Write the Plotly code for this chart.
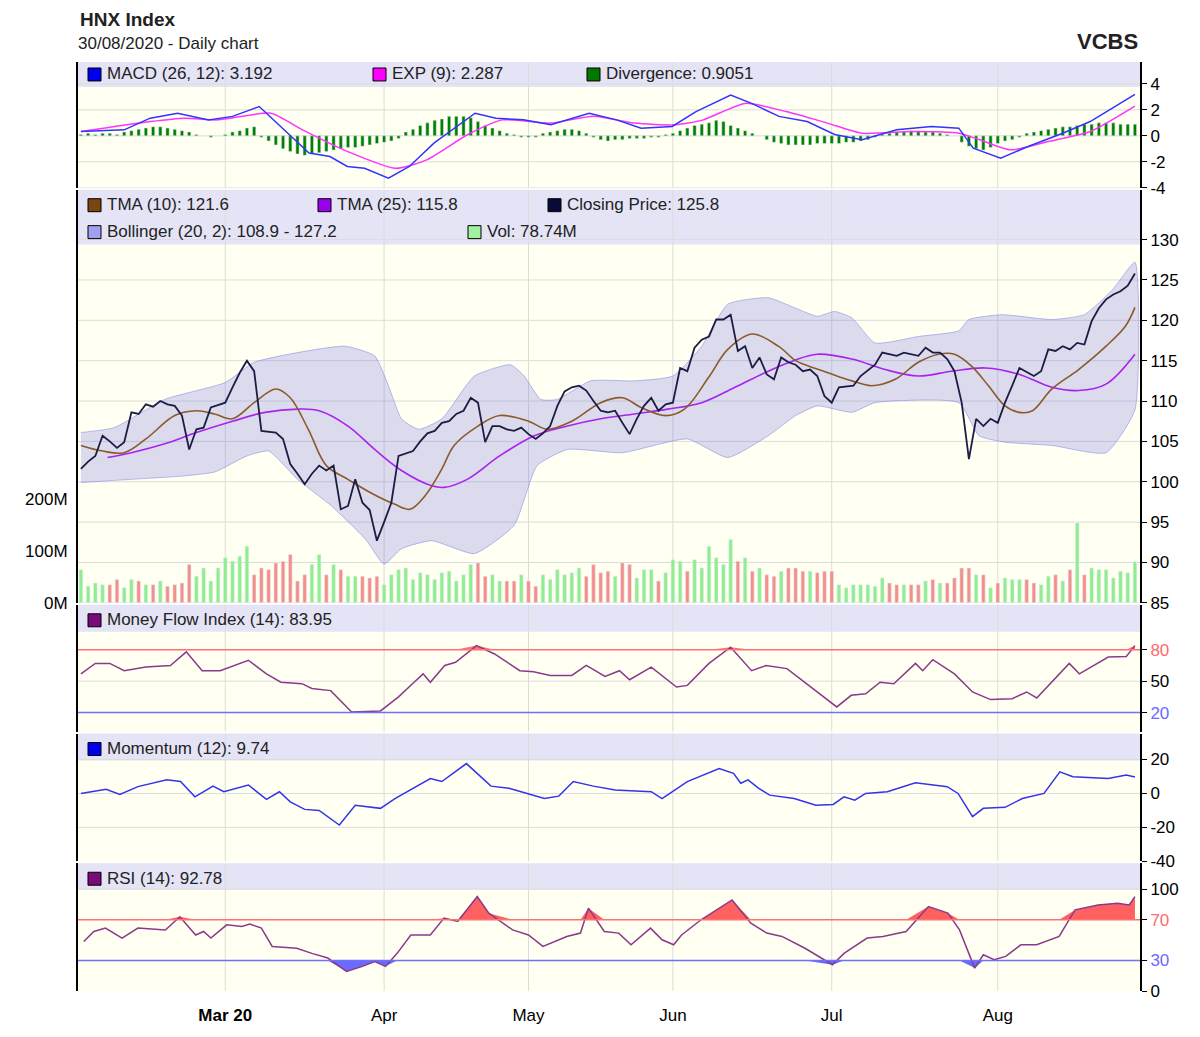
import numpy as np
import pandas as pd
import plotly.graph_objects as go

# ---------------- DATA ----------------
dates = [d for d in pd.bdate_range("2020-02-03", "2020-08-28")
         if d.strftime("%m-%d") not in ("04-02", "04-30", "05-01")]
month_labels = ["<b>Mar 20</b>", "Apr", "May", "Jun", "Jul", "Aug"]
month_keys = ["2020-03", "2020-04", "2020-05", "2020-06", "2020-07", "2020-08"]

close = [101.6,102.5,103.2,105.7,105,104.2,104.9,108.6,108.4,109.6,109.3,110,109.6,109.4,108.2,104,106.5,106.7,109.2,109.5,
         109.8,111.7,113.5,115,113.7,106.3,106.2,106.1,105.3,102.2,101,99.7,101,102,101.4,102,96.6,97,100.3,97.4,
         96.5,92.7,95,97.4,103.2,103.5,103.8,105,106,106.3,107.3,107.5,108.4,108.8,110.4,109.8,104.9,106.9,106.9,106.5,
         106.3,106.7,105.9,105.3,106,106.9,109.4,111.2,111.7,111.9,111.3,110,108.8,108.6,108.8,107.3,105.9,107.8,109.4,110.4,
         108.8,109.6,109.8,114.1,113.7,116.6,117.6,118,120.1,120.1,120.7,116.2,116.8,114.1,115.4,113.3,112.7,115.4,114.8,114.5,
         113.7,113.9,113.1,110.6,109.8,111.7,111.8,111.9,113.1,113.8,114.5,116,115.8,115.6,116,115.8,115.6,116.6,116,116,
         115.2,113.7,109.8,102.8,107.8,106.9,107.8,107.3,109.8,111.9,114.1,113.6,113.1,113.7,116.4,116.2,116.8,116.4,117.2,117,
         119.9,121.5,122.6,123.2,123.6,124.3,125.8]
volume_m = [64,32,38,35,35,45,29,45,42,35,35,42,32,35,38,74,51,67,42,67,87,80,90,109,54,67,64,77,80,93,42,54,74,93,54,74,64,51,51,51,
            48,51,35,54,64,67,45,58,54,45,58,61,42,54,74,77,51,54,42,42,42,54,42,32,54,45,64,54,58,67,51,74,58,61,51,77,74,48,64,64,
            42,58,83,80,61,83,67,109,87,74,122,80,87,61,67,54,51,61,67,67,61,61,58,61,61,35,29,35,35,35,32,48,38,35,35,35,35,42,45,38,
            38,48,67,67,54,54,29,38,48,45,45,45,38,35,51,54,42,64,154,54,67,64,64,48,61,58,79]

tma10_x = [0,3,6,9,13,16,18.5,21,24,27,29,31.5,34,37,40,43.5,45.6,47.7,50,51.7,55,58,62,64.6,68,72,75,77.6,81,83.6,87,89.6,93,96.6,99,
           100.3,103.5,106.8,109.5,112.8,116,118.8,121,123.4,125.7,128,130,131.8,134.5,138.2,142,144.7,146]
tma10_y = [104.5,103.8,103.6,105.3,108.2,108.8,108.4,107.8,109.8,111.5,110.4,106.5,102,100.3,98.7,97.2,96.6,98.3,101.6,104.5,106.9,108.2,107.5,106.5,107.5,109.8,110.4,109.2,108.2,109,113,116.4,118.3,116.8,115,
           114.5,113.5,112.5,111.9,112.7,114.8,115.8,115.8,114.3,111.9,109.4,108.6,108.8,111.5,113.9,116.8,119.3,121.6]
tma25_x = [3.7,7,11.6,16,21,25.5,30,33,37,40.7,44.4,48.6,50.3,53.5,58,62.8,67.4,72,76.7,81.3,86,90.6,95.2,98.7,102,106.8,111.4,116,120.6,125.3,130,134.5,138.2,142,146]
tma25_y = [103,103.6,104.7,106.1,107.5,108.6,109,108.8,106.9,104,101.4,99.5,99.3,100.3,103.2,105.7,106.9,107.8,108.4,109,109.8,111.7,113.7,115,115.8,115.2,113.9,113.1,113.7,114.1,113.3,111.7,111.3,112.1,115.8]
boll_up_x = [0,4.6,11.6,20,24,30,36.6,40.7,42.6,44.4,46.8,50,54.5,59.5,61.4,63.7,66,70.6,76.7,82,86,89.6,95.2,99,102,104.4,106.8,110,116,121.6,123,127.6,134.5,139,142.9,146]
boll_up_y = [106.1,106.7,110.2,112.3,114.8,116,116.8,115.6,111.9,107.8,106.5,107.8,113.1,114.5,113.1,110.2,110.2,112.5,112.5,113.1,116.8,122,122.8,121.5,120.5,121.1,120.3,117.2,118,118.7,120.1,120.7,120.1,120.7,123.8,127.2]
boll_lo_x = [0,7,14,18.5,23,26,30,34.7,39.4,42,44.4,48.6,54.5,60,63.2,67.4,75,84,89.6,95.2,99,102,106.8,110,121.6,124.4,128,134.5,142,146]
boll_lo_y = [99.9,100.3,100.7,101.2,103.2,103.8,100.3,97,92.9,89.8,91.7,92.7,91.1,94.6,102,104,103.6,105.3,103,105.7,108.2,109.4,108.6,109.8,109.8,105.7,104.9,104.5,103.6,108.9]

macd_x = [0,6,9.6,13.4,17.7,21,24.7,28.7,31.6,34.5,36.9,39.3,42.6,45.5,48.9,54.6,57.5,61.3,65.1,70.4,74.2,77.6,81.9,85.2,90,92.9,96.7,100.6,104.4,108.2,113,117.8,121.6,123.6,127.4,131.2,136,139.8,143.7,146]
macd_y = [0.33,0.46,1.36,1.74,1.23,1.5,2.26,0.2,-1.33,-1.6,-2.36,-2.5,-3.26,-2.36,-0.56,1.74,1.36,1.23,0.85,1.74,1.23,0.59,0.72,1.87,3.15,2.5,1.5,1.1,0.1,-0.3,0.46,0.72,0.59,-0.95,-1.72,-0.82,0.2,1.1,2.38,3.19]
exp_x = [0,9.6,14.4,19,26.3,30.7,36.4,43.6,47.9,53.6,58.4,65,71,76.6,82.4,86.2,92,97.7,103.4,108.2,115,121.6,124.5,128.8,134,139.8,146]
exp_y = [0.33,1.1,1.36,1.23,1.74,0.46,-1.08,-2.5,-1.85,0.1,1.23,0.98,1.5,0.98,0.85,1.23,2.5,1.87,0.98,0.2,0.33,0.2,-0.3,-1.08,-0.44,0.33,2.29]
divergence = [0.1,0.2,0.1,0.2,0.2,0.1,0.3,0.4,0.5, 0.6,0.7,0.7,0.6,0.5,0.4,0.3, 0.1,0.0,-0.1,0.0,0.1, 0.3,0.4,0.6,0.7,
              -0.1,-0.4,-0.7, -1.0,-1.2,-1.4,-1.5,-1.4,-1.3, -1.2,-1.1,-1.0,-0.9,-0.9,-0.8,-0.7,-0.6,-0.5,-0.4,
              -0.2,0.3,0.5,0.8, 1.0,1.2,1.3,1.5,1.5,1.5,1.4,1.1,0.8, 0.6,0.4,0.2,0.1,-0.1, -0.1,-0.1,
              0.2,0.3,0.4,0.5,0.5,0.4,0.2, -0.1,-0.3,-0.4,-0.3,-0.3,-0.2, -0.2,-0.2,-0.1,-0.1,0.1,0.2,
              0.4,0.6,0.8,0.9,1.0,1.2,1.1,0.8, 0.6,0.4,0.2,0.0,
              -0.3,-0.5,-0.6,-0.7,-0.7,-0.7,-0.7,-0.6,-0.6,-0.6,-0.6,-0.5,-0.5,-0.4,-0.3,-0.1,
              0.1,0.2,0.3,0.3,0.4,0.4,0.3,0.3,0.2,0.1,0.0, -0.5,-0.8,-1.0,-1.1,-0.9, -0.6,-0.4,-0.3,-0.1,
              0.2,0.3,0.4,0.5,0.6,0.7,0.7,0.8,0.9,0.9,1.0,1.0,1.0,0.9,0.9,0.9]

mfi_x = [0,2,4,6,9,12.4,14.6,16.8,19.3,23.2,25.7,27.7,30.6,32,34.6,37.5,41.5,44,46,47.4,48.4,50.4,51.9,54.8,57.3,60.8,62.7,65,68,70,72.6,74.6,76,79,82.5,84,87,90,92.9,94.9,97.8,
         101.8,104.7,106.7,108.7,110.7,112.6,115.6,116.6,118,121,123.5,126,129,131,132.4,136.9,138.3,142.3,144.8,146]
mfi_y = [57,67,67,60,63.5,65,78,60,60,70,57,49,47.6,43,41,20.6,21.6,35,48,57,49,65,68,84,76,60,59,55.5,55.5,65,54.6,60,51.4,63.5,44.4,46,67,82.5,60,65,62,
         41,25.4,36.5,38,49,47.6,67,60,70.5,57,39.7,32.4,33.3,39.7,34,67,57,73,73.6,83.95]
mom_x = [0,3.5,5.4,7.9,11.9,13.8,15.8,18.3,19.8,23.2,25.7,27.5,29,31,33,35.8,38,41.5,43.5,45.5,48.4,50,53.4,56.8,59.3,64.2,66.2,68.2,71,74,79,80.5,84,88.4,90.4,91.4,92.4,93.9,95.4,98.8,
         101.8,104.2,105.7,107.2,108.7,111.7,115.6,120,121.5,123.5,125,128,130.4,133.4,135.6,137.4,142.3,144.8,146]
mom_y = [0,2.4,-0.6,4,8,7,-2,4.3,1,5,-3.5,1,-5,-9.4,-10,-18.6,-7,-8.8,-3,2,8.8,7,17.6,4.3,3,-3,-1.6,7,4.3,2,1,-3,7,14.7,11.8,6,8,3,-1,-3,
         -7,-6.5,-2,-4,0,1,6.3,4,0,-13.7,-8.8,-8.2,-3,0,12.7,9.8,8.8,10.8,9.74]
rsi_x = [0.4,1.8,3.4,5.7,7.9,11.7,13.7,15.9,17,18,20.2,22.3,23.4,25,26.5,29.9,32,34.2,36.8,39,40.7,42.2,43.8,45.7,48.4,50.3,52.2,54.9,56.5,59.8,62,64,67.3,69.2,70.3,72.5,74.5,76.2,78.9,80.5,82.1,83.2,85.9,90.2,92.8,95,97.1,
         100.3,104.1,105.7,108.9,111.1,114.3,117.4,120.1,121.7,123.8,125,126.5,128.1,130.2,132.4,135.5,137.7,140.9,143.6,145.2,146]
rsi_y = [48.7,58.5,61.8,52,61.8,60,73,55,58.5,52,65,63.4,65.7,61.8,43.8,42,37,32.4,19.3,24.2,29,24.2,37,55,55,71.6,68.3,92.8,76.5,60,55,43.8,53.6,56.9,81.4,58.5,56.9,45.4,61.8,50.3,45.4,55,70,89.5,66.7,56.9,53.6,
         42,25.8,37,52,53.6,58.5,83,76.5,60,22.5,35.6,30.7,34,45.4,45.4,53.6,79.7,84.6,86.3,84.6,92.78]

# ---------------- HELPERS ----------------
OFF = 8  # page body margin
W, H = 1200 - OFF, 1037 - OFF
L, R, T, B = 78, 1140, 62, 993   # reference pixel coordinates
def px(x): return (x - L) / (R - L)
def py(y): return (B - y) / (B - T)

n = len(close)
idx = list(range(n))
month_pos = [next(i for i, d in enumerate(dates) if d.strftime("%Y-%m") == k) for k in month_keys]

BG = "#fffff2"
BAND = "#e4e4f6"
GRID = "#dcdcdc"
FONT = "Liberation Sans"

fig = go.Figure()

fig.add_trace(go.Bar(x=idx, y=divergence, marker_color="#008000", width=0.45, yaxis="y", xaxis="x"))
fig.add_trace(go.Scatter(x=exp_x, y=exp_y, mode="lines", line=dict(color="#ff33ff", width=1.5, shape="spline", smoothing=0.6), yaxis="y"))
fig.add_trace(go.Scatter(x=macd_x, y=macd_y, mode="lines", line=dict(color="#3333ff", width=1.5), yaxis="y"))

vol = [v * 1e6 for v in volume_m]
vcol = ["#90ee90" if i == 0 or close[i] >= close[i - 1] else "#f4908c" for i in idx]
fig.add_trace(go.Bar(x=idx, y=vol, marker_color=vcol, width=0.5, xaxis="x", yaxis="y2"))
fig.add_trace(go.Scatter(x=boll_up_x + boll_lo_x[::-1], y=boll_up_y + boll_lo_y[::-1], fill="toself",
                         fillcolor="rgba(110,110,225,0.25)", line=dict(color="rgba(110,110,230,0.45)", width=1, shape="spline", smoothing=0.5),
                         mode="lines", yaxis="y3"))
fig.add_trace(go.Scatter(x=tma25_x, y=tma25_y, mode="lines", line=dict(color="#aa22ee", width=1.6, shape="spline"), yaxis="y3"))
fig.add_trace(go.Scatter(x=tma10_x, y=tma10_y, mode="lines", line=dict(color="#8b5a2b", width=1.6, shape="spline"), yaxis="y3"))
fig.add_trace(go.Scatter(x=idx, y=close, mode="lines", line=dict(color="#1c1c44", width=1.8), yaxis="y3"))

fig.add_trace(go.Scatter(x=mfi_x, y=[80]*len(mfi_x), mode="lines", line=dict(width=0), yaxis="y4"))
fig.add_trace(go.Scatter(x=mfi_x, y=np.maximum(mfi_y, 80), mode="lines", line=dict(width=0), fill="tonexty",
                         fillcolor="rgba(255,80,80,0.8)", yaxis="y4"))
fig.add_trace(go.Scatter(x=mfi_x, y=mfi_y, mode="lines", line=dict(color="#8b3a8b", width=1.5), yaxis="y4"))

fig.add_trace(go.Scatter(x=mom_x, y=mom_y, mode="lines", line=dict(color="#3333ee", width=1.5), yaxis="y5"))

fig.add_trace(go.Scatter(x=rsi_x, y=[70]*len(rsi_x), mode="lines", line=dict(width=0), yaxis="y6"))
fig.add_trace(go.Scatter(x=rsi_x, y=np.maximum(rsi_y, 70), mode="lines", line=dict(width=0), fill="tonexty",
                         fillcolor="rgba(255,80,80,0.9)", yaxis="y6"))
fig.add_trace(go.Scatter(x=rsi_x, y=[30]*len(rsi_x), mode="lines", line=dict(width=0), yaxis="y6"))
fig.add_trace(go.Scatter(x=rsi_x, y=np.minimum(rsi_y, 30), mode="lines", line=dict(width=0), fill="tonexty",
                         fillcolor="rgba(90,90,255,0.9)", yaxis="y6"))
fig.add_trace(go.Scatter(x=rsi_x, y=rsi_y, mode="lines", line=dict(color="#8b3a8b", width=1.5), yaxis="y6"))

BLUE_T = "#6a6aff"; RED_T = "#ff6a6a"
def yax(dom, rng, tv, tt, side="right", **kw):
    d = dict(domain=dom, range=rng, tickvals=tv, ticktext=tt, side=side, showgrid=False,
             zeroline=False, ticks="outside", ticklen=5, tickcolor="black",
             tickfont=dict(family=FONT, size=17, color="black"), fixedrange=True,
             showline=True, linecolor="black", linewidth=2, mirror=True)
    d.update(kw)
    return d

xcommon = dict(range=[-0.4, 146.7], showgrid=False, zeroline=False, showline=False,
               tickvals=month_pos, ticktext=month_labels, ticks="outside", ticklen=9,
               tickcolor="rgba(0,0,0,0)", fixedrange=True)
layout = dict(
    width=W, height=H, paper_bgcolor="white", plot_bgcolor=BG, showlegend=False, barmode="overlay",
    margin=dict(l=L - OFF, r=W - (R - OFF), t=T - OFF, b=H - (B - OFF)),
    font=dict(family=FONT, size=17, color="black"),
    xaxis=dict(xcommon, anchor="y6", showticklabels=True, tickfont=dict(family=FONT, size=17)),
    yaxis=yax([py(188), 1.0], [-4, 5.69], [-4, -2, 0, 2, 4], ["-4", "-2", "0", "2", "4"], anchor="x"),
    yaxis2=yax([py(604), py(190)], [0, 796e6], [0, 100e6, 200e6], ["0M", "100M", "200M"], side="left", anchor="x",
               showline=False, ticks="outside", ticklen=6, tickcolor="rgba(0,0,0,0)"),
    yaxis3=yax([py(604), py(190)], [85, 136.18], list(range(85, 131, 5)), [str(v) for v in range(85, 131, 5)], overlaying="y2", anchor="x"),
    yaxis4=yax([py(733), py(606)], [1.9, 122.9], [20, 50, 80],
               [f"<span style='color:{BLUE_T}'>20</span>", "50", f"<span style='color:{RED_T}'>80</span>"], anchor="x"),
    yaxis5=yax([py(863), py(735)], [-40, 35.3], [-40, -20, 0, 20], ["-40", "-20", "0", "20"], anchor="x"),
    yaxis6=yax([0, py(865)], [0, 125.5], [0, 30, 70, 100],
               ["0", f"<span style='color:{BLUE_T}'>30</span>", f"<span style='color:{RED_T}'>70</span>", "100"], anchor="x"),
)
fig.update_layout(**layout)

shapes = []
panels = [("y", [-4, -2, 0, 2, 4], 62, 87), ("y3", list(range(85, 131, 5)), 190, 245),
          ("y4", [50], 606, 633), ("y5", [-20, 0, 20], 735, 762), ("y6", [100], 865, 891)]
for ax, gv, top, bot in panels:
    shapes.append(dict(type="rect", xref="paper", yref="paper", x0=0, x1=1, y0=py(bot), y1=py(top),
                       fillcolor=BAND, line=dict(width=0), layer="below"))
    for v in gv:
        shapes.append(dict(type="line", xref="paper", yref=ax, x0=0, x1=1, y0=v, y1=v,
                           line=dict(color=GRID, width=1), layer="below"))
for ax_top, ax_bot in [(62, 188), (190, 604), (606, 733), (735, 863), (865, 993)]:
    for m in month_pos:
        shapes.append(dict(type="line", xref="x", yref="paper", x0=m, x1=m, y0=py(ax_bot), y1=py(ax_top),
                           line=dict(color=GRID, width=1), layer="below"))
shapes.append(dict(type="line", xref="paper", yref="y4", x0=0, x1=1, y0=80, y1=80, line=dict(color="#ff7070", width=1.5)))
shapes.append(dict(type="line", xref="paper", yref="y4", x0=0, x1=1, y0=20, y1=20, line=dict(color="#7070ff", width=1.5)))
shapes.append(dict(type="line", xref="paper", yref="y6", x0=0, x1=1, y0=70, y1=70, line=dict(color="#ff7070", width=1.5)))
shapes.append(dict(type="line", xref="paper", yref="y6", x0=0, x1=1, y0=30, y1=30, line=dict(color="#7070ff", width=1.5)))

annotations = []
def legend_item(x, y, color, text):
    shapes.append(dict(type="rect", xref="paper", yref="paper", x0=px(x), x1=px(x + 13), y0=py(y + 7), y1=py(y - 6),
                       fillcolor=color, line=dict(color="black", width=1)))
    annotations.append(dict(xref="paper", yref="paper", x=px(x + 17), y=py(y), text=text, showarrow=False,
                            xanchor="left", yanchor="middle", font=dict(family=FONT, size=17, color="#222")))

legend_item(88, 74, "#0000ee", "MACD (26, 12): 3.192")
legend_item(373, 74, "#ff00ff", "EXP (9): 2.287")
legend_item(587, 74, "#007700", "Divergence: 0.9051")
legend_item(88, 205, "#7a4510", "TMA (10): 121.6")
legend_item(318, 205, "#9900ee", "TMA (25): 115.8")
legend_item(548, 205, "#0a0a3a", "Closing Price: 125.8")
legend_item(88, 232, "#a0a0f0", "Bollinger (20, 2): 108.9 - 127.2")
legend_item(468, 232, "#a0f0a0", "Vol: 78.74M")
legend_item(88, 621, "#7a0a7a", "Money Flow Index (14): 83.95")
legend_item(88, 750, "#0000ee", "Momentum (12): 9.74")
legend_item(88, 880, "#7a0a7a", "RSI (14): 92.78")

annotations.append(dict(xref="paper", yref="paper", x=px(78), y=py(19), text="<b>HNX Index</b>", showarrow=False,
                        xanchor="left", yanchor="middle", font=dict(family=FONT, size=19, color="#222")))
annotations.append(dict(xref="paper", yref="paper", x=px(76), y=py(43), text="30/08/2020 - Daily chart", showarrow=False,
                        xanchor="left", yanchor="middle", font=dict(family=FONT, size=17, color="#222")))
annotations.append(dict(xref="paper", yref="paper", x=px(1140), y=py(41), text="<b>VCBS</b>", showarrow=False,
                        xanchor="right", yanchor="middle", font=dict(family=FONT, size=22, color="#222")))

fig.update_layout(shapes=shapes, annotations=annotations)
fig.write_html("out.html")
